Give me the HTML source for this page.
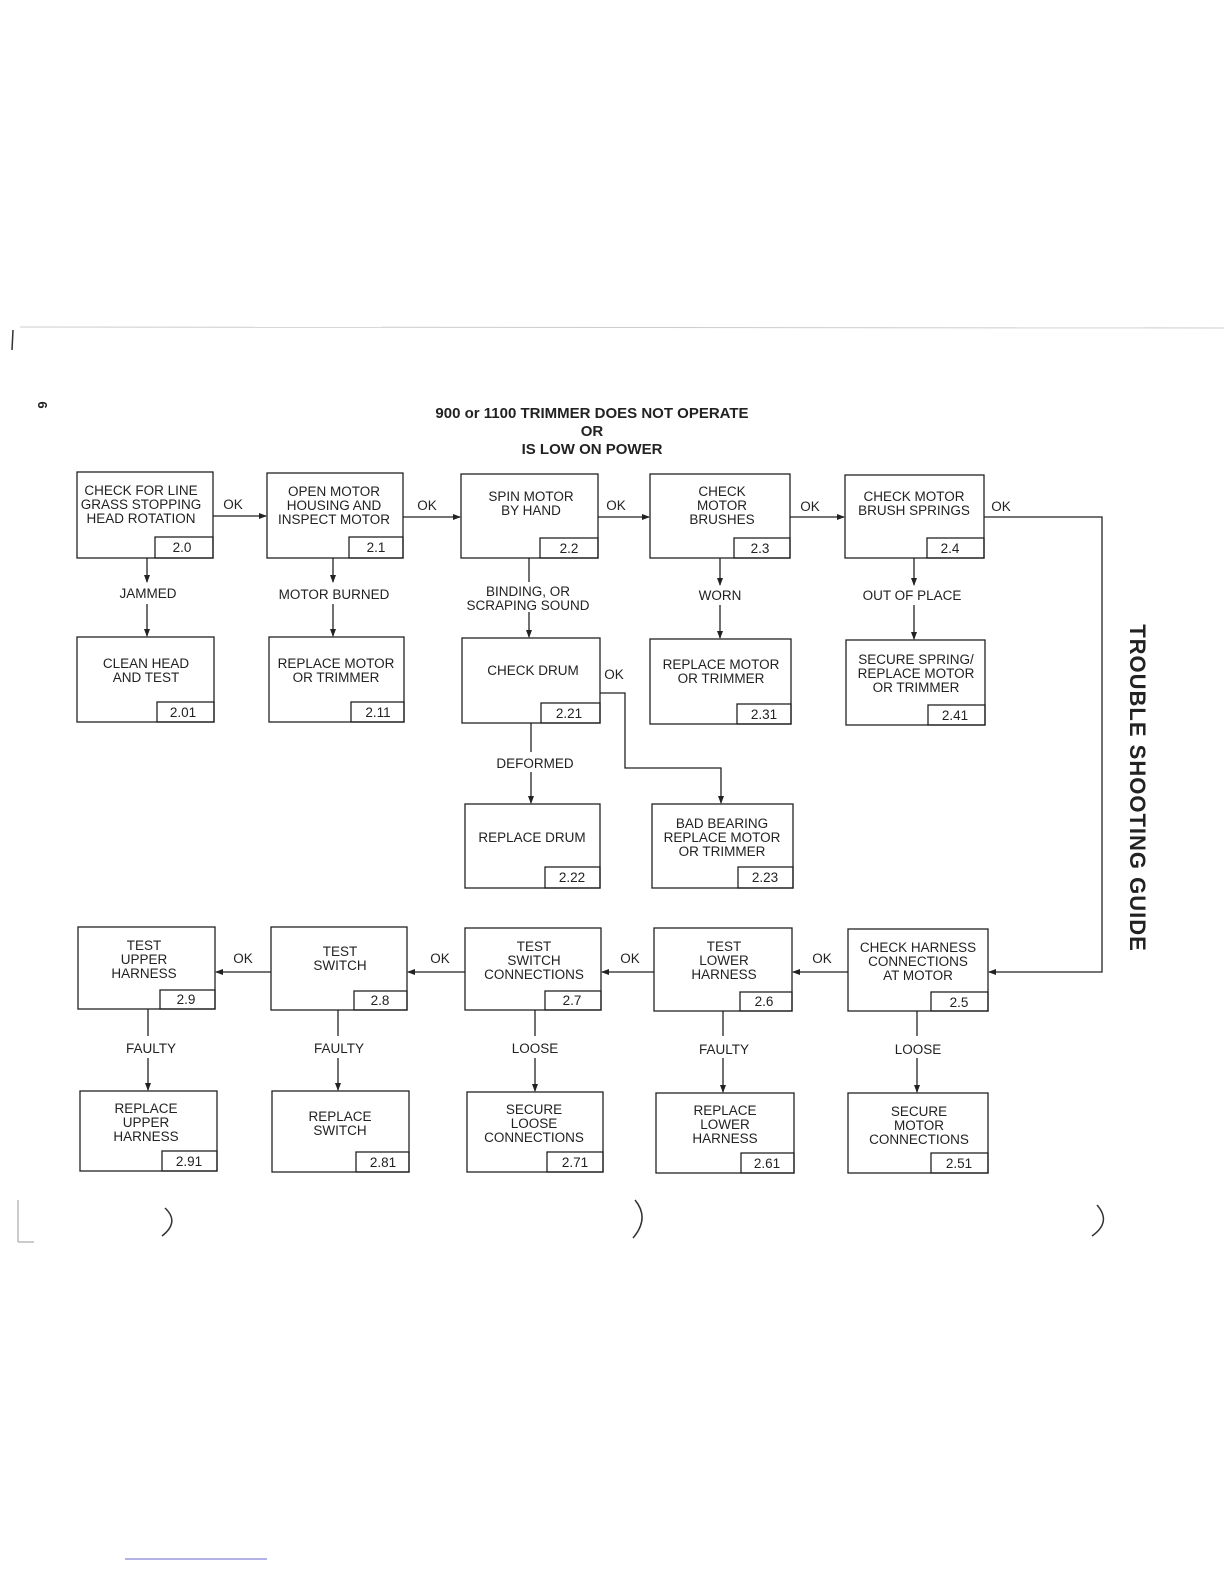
<!DOCTYPE html>
<html><head><meta charset="utf-8"><style>
html,body{margin:0;padding:0;background:#fff;}
svg{display:block;}
text{font-family:"Liberation Sans",sans-serif;fill:#222;}
</style></head><body>
<svg width="1224" height="1584" viewBox="0 0 1224 1584" xmlns="http://www.w3.org/2000/svg">
<defs><marker id="a" markerWidth="8" markerHeight="8" refX="7" refY="4" orient="auto" markerUnits="userSpaceOnUse"><path d="M0,1 L8,4 L0,7 Z" fill="#222"/></marker></defs>
<line x1="20" y1="327" x2="1224" y2="328" stroke="#ccc" stroke-width="1"/>
<line x1="13" y1="330" x2="12" y2="350" stroke="#333" stroke-width="1.5"/>
<line x1="18" y1="1200" x2="18" y2="1242" stroke="#999"/>
<line x1="18" y1="1242" x2="34" y2="1242" stroke="#999"/>
<line x1="125" y1="1559" x2="267" y2="1559" stroke="#66c" stroke-width="1"/>
<text x="38" y="405" font-size="13" font-weight="bold" transform="rotate(90 38 405)" text-anchor="middle">6</text>
<g font-weight="bold" font-size="15" text-anchor="middle">
<text x="592" y="418">900 or 1100 TRIMMER DOES NOT OPERATE</text>
<text x="592" y="436">OR</text>
<text x="592" y="454">IS LOW ON POWER</text>
</g>
<text x="1130" y="788" font-size="22" font-weight="bold" text-anchor="middle" transform="rotate(90 1130 788)" letter-spacing="1">TROUBLE SHOOTING GUIDE</text>
<g fill="none" stroke="#222" stroke-width="1.3">
<!-- boxes -->
<rect x="77" y="472" width="136" height="86"/><rect x="155" y="537" width="58" height="21"/>
<rect x="267" y="473" width="136" height="85"/><rect x="349" y="537" width="54" height="21"/>
<rect x="461" y="474" width="137" height="84"/><rect x="540" y="538" width="58" height="20"/>
<rect x="650" y="474" width="140" height="84"/><rect x="734" y="538" width="56" height="20"/>
<rect x="845" y="475" width="139" height="83"/><rect x="927" y="538" width="57" height="20"/>
<rect x="77" y="637" width="137" height="85"/><rect x="157" y="702" width="57" height="20"/>
<rect x="269" y="637" width="135" height="85"/><rect x="351" y="702" width="53" height="20"/>
<rect x="462" y="638" width="138" height="85"/><rect x="541" y="703" width="59" height="20"/>
<rect x="650" y="639" width="141" height="85"/><rect x="737" y="704" width="54" height="20"/>
<rect x="846" y="640" width="139" height="85"/><rect x="928" y="705" width="57" height="20"/>
<rect x="465" y="804" width="135" height="84"/><rect x="545" y="867" width="55" height="21"/>
<rect x="652" y="804" width="141" height="84"/><rect x="738" y="867" width="55" height="21"/>
<rect x="78" y="927" width="137" height="82"/><rect x="160" y="990" width="55" height="19"/>
<rect x="271" y="927" width="136" height="83"/><rect x="354" y="991" width="53" height="19"/>
<rect x="465" y="928" width="136" height="82"/><rect x="545" y="991" width="56" height="19"/>
<rect x="654" y="928" width="138" height="83"/><rect x="740" y="992" width="52" height="19"/>
<rect x="848" y="929" width="140" height="82"/><rect x="931" y="992" width="57" height="19"/>
<rect x="80" y="1091" width="137" height="80"/><rect x="162" y="1151" width="55" height="20"/>
<rect x="272" y="1091" width="137" height="81"/><rect x="356" y="1152" width="53" height="20"/>
<rect x="467" y="1092" width="136" height="80"/><rect x="547" y="1152" width="56" height="20"/>
<rect x="656" y="1093" width="138" height="80"/><rect x="741" y="1153" width="53" height="20"/>
<rect x="848" y="1093" width="140" height="80"/><rect x="931" y="1153" width="57" height="20"/>
</g>
<g fill="none" stroke="#222" stroke-width="1.3" marker-end="url(#a)">
<!-- row1 horizontals -->
<line x1="213" y1="516" x2="266" y2="516"/>
<line x1="403" y1="517" x2="460" y2="517"/>
<line x1="598" y1="517" x2="649" y2="517"/>
<line x1="790" y1="517" x2="844" y2="517"/>
<polyline points="984,517 1102,517 1102,972 989,972"/>
<!-- row4 leftwards -->
<line x1="848" y1="972" x2="793" y2="972"/>
<line x1="654" y1="972" x2="602" y2="972"/>
<line x1="465" y1="972" x2="408" y2="972"/>
<line x1="271" y1="972" x2="216" y2="972"/>
<!-- verticals row1 -> row2 -->
<polyline points="147,558 147,582"/><line x1="147" y1="604" x2="147" y2="636"/>
<polyline points="333,558 333,582"/><line x1="333" y1="604" x2="333" y2="636"/>
<line x1="529" y1="612" x2="529" y2="637"/>
<polyline points="720,558 720,585"/><line x1="720" y1="605" x2="720" y2="638"/>
<polyline points="914,558 914,585"/><line x1="914" y1="605" x2="914" y2="639"/>
<!-- drum -->
<line x1="531" y1="772" x2="531" y2="803"/>
<polyline points="600,693 625,693 625,768 721,768 721,803"/>
<!-- row4 -> row5 -->
<line x1="148" y1="1058" x2="148" y2="1090"/>
<line x1="338" y1="1058" x2="338" y2="1090"/>
<line x1="535" y1="1058" x2="535" y2="1091"/>
<line x1="723" y1="1058" x2="723" y2="1092"/>
<line x1="917" y1="1058" x2="917" y2="1092"/>
</g>
<g stroke="#222" stroke-width="1.3">
<line x1="529" y1="558" x2="529" y2="582"/>
<line x1="531" y1="723" x2="531" y2="752"/>
<line x1="148" y1="1009" x2="148" y2="1036"/>
<line x1="338" y1="1010" x2="338" y2="1036"/>
<line x1="535" y1="1010" x2="535" y2="1036"/>
<line x1="723" y1="1011" x2="723" y2="1036"/>
<line x1="917" y1="1011" x2="917" y2="1036"/>
</g>
<g font-size="13.5" text-anchor="middle">
<text x="141" y="495">CHECK FOR LINE</text><text x="141" y="509">GRASS STOPPING</text><text x="141" y="523">HEAD ROTATION</text>
<text x="334" y="496">OPEN MOTOR</text><text x="334" y="510">HOUSING AND</text><text x="334" y="524">INSPECT MOTOR</text>
<text x="531" y="501">SPIN MOTOR</text><text x="531" y="515">BY HAND</text>
<text x="722" y="496">CHECK</text><text x="722" y="510">MOTOR</text><text x="722" y="524">BRUSHES</text>
<text x="914" y="501">CHECK MOTOR</text><text x="914" y="515">BRUSH SPRINGS</text>
<text x="146" y="668">CLEAN HEAD</text><text x="146" y="682">AND TEST</text>
<text x="336" y="668">REPLACE MOTOR</text><text x="336" y="682">OR TRIMMER</text>
<text x="533" y="675">CHECK DRUM</text>
<text x="721" y="669">REPLACE MOTOR</text><text x="721" y="683">OR TRIMMER</text>
<text x="916" y="664">SECURE SPRING/</text><text x="916" y="678">REPLACE MOTOR</text><text x="916" y="692">OR TRIMMER</text>
<text x="532" y="842">REPLACE DRUM</text>
<text x="722" y="828">BAD BEARING</text><text x="722" y="842">REPLACE MOTOR</text><text x="722" y="856">OR TRIMMER</text>
<text x="144" y="950">TEST</text><text x="144" y="964">UPPER</text><text x="144" y="978">HARNESS</text>
<text x="340" y="956">TEST</text><text x="340" y="970">SWITCH</text>
<text x="534" y="951">TEST</text><text x="534" y="965">SWITCH</text><text x="534" y="979">CONNECTIONS</text>
<text x="724" y="951">TEST</text><text x="724" y="965">LOWER</text><text x="724" y="979">HARNESS</text>
<text x="918" y="952">CHECK HARNESS</text><text x="918" y="966">CONNECTIONS</text><text x="918" y="980">AT MOTOR</text>
<text x="146" y="1113">REPLACE</text><text x="146" y="1127">UPPER</text><text x="146" y="1141">HARNESS</text>
<text x="340" y="1121">REPLACE</text><text x="340" y="1135">SWITCH</text>
<text x="534" y="1114">SECURE</text><text x="534" y="1128">LOOSE</text><text x="534" y="1142">CONNECTIONS</text>
<text x="725" y="1115">REPLACE</text><text x="725" y="1129">LOWER</text><text x="725" y="1143">HARNESS</text>
<text x="919" y="1116">SECURE</text><text x="919" y="1130">MOTOR</text><text x="919" y="1144">CONNECTIONS</text>
<!-- numbers -->
<text x="182" y="552">2.0</text><text x="376" y="552">2.1</text><text x="569" y="553">2.2</text><text x="760" y="553">2.3</text><text x="950" y="553">2.4</text>
<text x="183" y="717">2.01</text><text x="378" y="717">2.11</text><text x="569" y="718">2.21</text><text x="764" y="719">2.31</text><text x="955" y="720">2.41</text>
<text x="572" y="882">2.22</text><text x="765" y="882">2.23</text>
<text x="186" y="1004">2.9</text><text x="380" y="1005">2.8</text><text x="572" y="1005">2.7</text><text x="764" y="1006">2.6</text><text x="959" y="1007">2.5</text>
<text x="189" y="1166">2.91</text><text x="383" y="1167">2.81</text><text x="575" y="1167">2.71</text><text x="767" y="1168">2.61</text><text x="959" y="1168">2.51</text>
<!-- labels -->
<text x="233" y="509">OK</text><text x="427" y="510">OK</text><text x="616" y="510">OK</text><text x="810" y="511">OK</text><text x="1001" y="511">OK</text>
<text x="148" y="598">JAMMED</text><text x="334" y="599">MOTOR BURNED</text>
<text x="528" y="596">BINDING, OR</text><text x="528" y="610">SCRAPING SOUND</text>
<text x="720" y="600">WORN</text><text x="912" y="600">OUT OF PLACE</text>
<text x="614" y="679">OK</text><text x="535" y="768">DEFORMED</text>
<text x="243" y="963">OK</text><text x="440" y="963">OK</text><text x="630" y="963">OK</text><text x="822" y="963">OK</text>
<text x="151" y="1053">FAULTY</text><text x="339" y="1053">FAULTY</text><text x="535" y="1053">LOOSE</text><text x="724" y="1054">FAULTY</text><text x="918" y="1054">LOOSE</text>
</g>
<g fill="none" stroke="#333" stroke-width="1.5">
<path d="M165,1208 Q180,1222 162,1236"/>
<path d="M635,1200 Q650,1218 633,1238"/>
<path d="M1097,1205 Q1112,1222 1092,1236"/>
</g>
</svg>
</body></html>
